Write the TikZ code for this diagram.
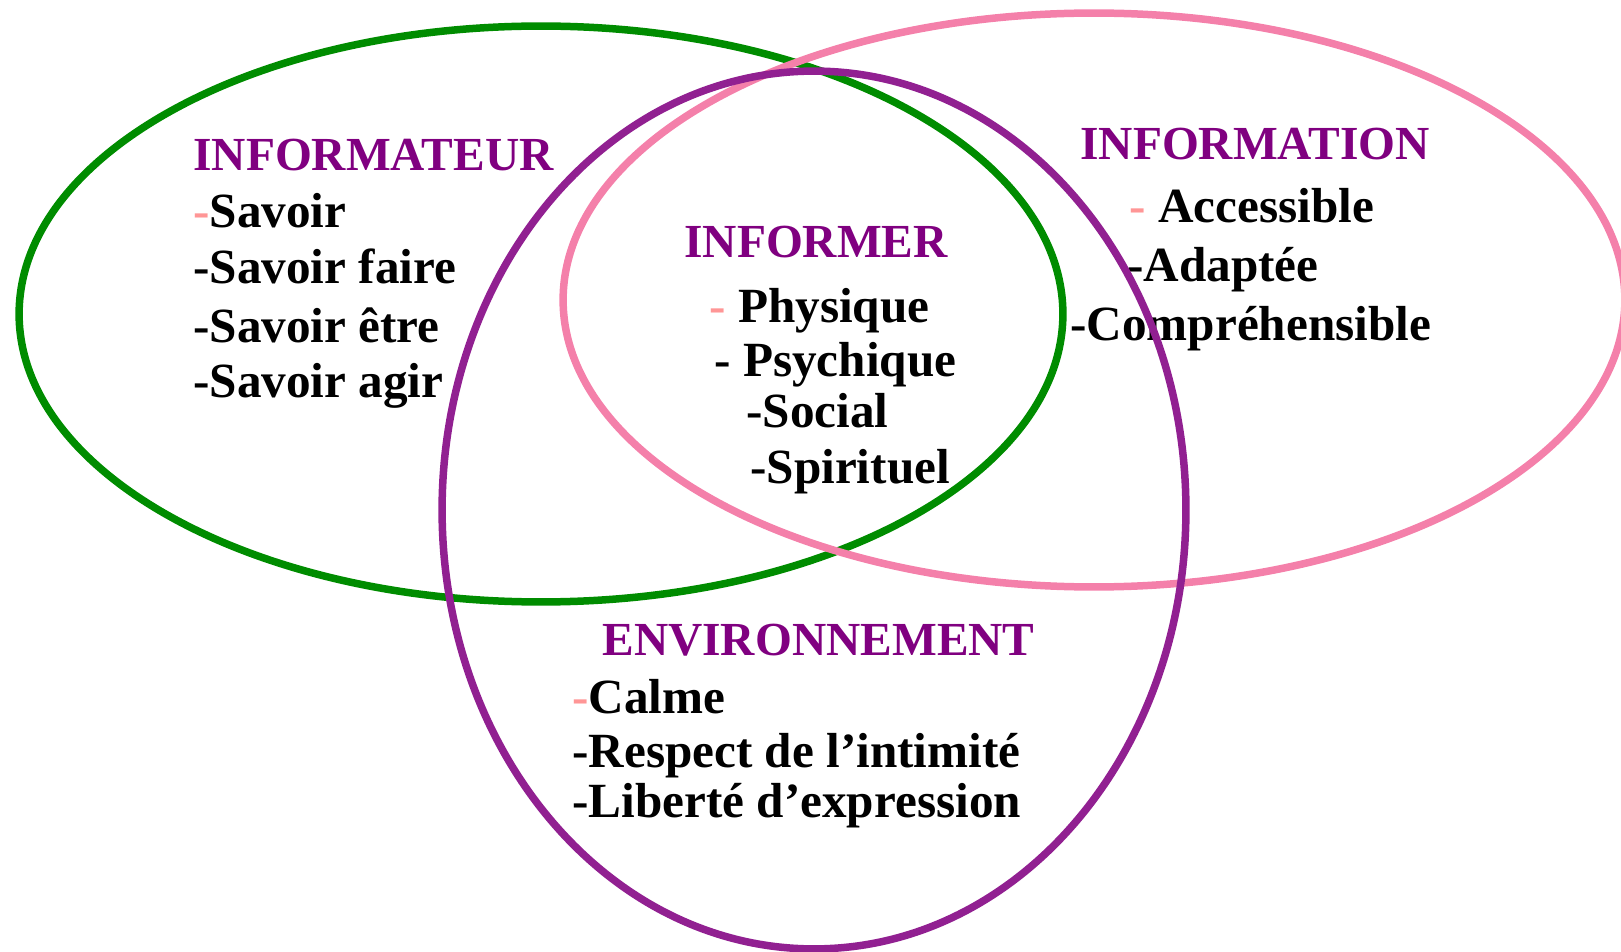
\documentclass[tikz,border=0pt]{standalone}
\usepackage{fontspec}
\setmainfont{Liberation Serif}

\definecolor{titlepurple}{RGB}{128,0,128}
\definecolor{ringgreen}{RGB}{0,140,0}
\definecolor{ringpink}{RGB}{244,128,170}
\definecolor{ringpurple}{RGB}{145,32,145}
\definecolor{dashpink}{RGB}{255,150,150}
\newcommand{\pdash}{\textcolor{dashpink}{-}}

\tikzset{
  head/.style={anchor=base west,inner sep=0pt,text=titlepurple,
    font=\fontsize{27}{30}\selectfont\bfseries},
  item/.style={anchor=base west,inner sep=0pt,
    font=\fontsize{28}{32}\selectfont\bfseries},
  ring/.style={line width=0.15cm},
}

\begin{document}
\begin{tikzpicture}[x=0.02cm,y=-0.02cm]
\useasboundingbox (0,0) rectangle (1621,952);

\node[head] (informateur) at (193,171) {INFORMATEUR};
\node[item] (savoir) at (193,228) {\pdash Savoir};
\node[item] (faire) at (193,284) {-Savoir faire};
\node[item] (etre) at (193,343) {-Savoir être};
\node[item] (agir) at (193,398) {-Savoir agir};

\node[head] (information) at (1080,160) {INFORMATION};
\node[item] (accessible) at (1129,223) {\pdash{} Accessible};
\node[item] (adaptee) at (1127,282) {-Adaptée};
\node[item] (comprehensible) at (1070,341) {-Compréhensible};

\node[head] (informer) at (684,258) {INFORMER};
\node[item] (physique) at (709,323) {\pdash{} Physique};
\node[item] (psychique) at (714,377) {- Psychique};
\node[item] (social) at (746,427) {-Social};
\node[item] (spirituel) at (750,483) {-Spirituel};

\node[head] (environnement) at (602,655) {ENVIRONNEMENT};
\node[item] (calme) at (572,713) {\pdash Calme};
\node[item] (intimite) at (572,767) {-Respect de l’intimité};
\node[item] (expression) at (572,817) {-Liberté d’expression};

\draw[ring,ringgreen] (541,314) ellipse [x radius=10.44cm, y radius=5.76cm];
\draw[ring,ringpink] (1094,300) ellipse [x radius=10.62cm, y radius=5.74cm];
\draw[ring,ringpurple] (814,510) ellipse [x radius=7.44cm, y radius=8.78cm];
\end{tikzpicture}
\end{document}
